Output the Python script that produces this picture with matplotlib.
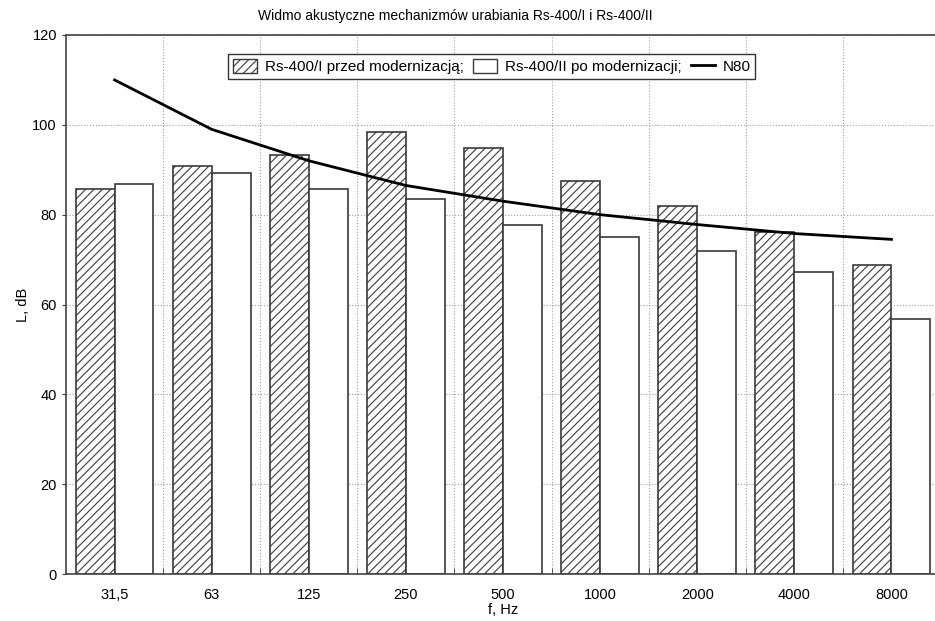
import numpy as np
import matplotlib.pyplot as plt
from matplotlib.patches import Patch
from matplotlib.lines import Line2D

plt.rcParams['font.family'] = ['Liberation Sans', 'DejaVu Sans']
plt.rcParams['hatch.linewidth'] = 0.8

# octave band centre frequencies
freqs = ['31,5', '63', '125', '250', '500', '1000', '2000', '4000', '8000']

# sound level before / after modernisation, dB
before = [85.7, 90.9, 93.2, 98.3, 94.9, 87.4, 82.0, 76.2, 68.7]
after = [86.8, 89.2, 85.7, 83.5, 77.6, 75.1, 71.9, 67.3, 56.7]

# N80 limit curve
n80 = [110.0, 99.0, 92.0, 86.5, 83.0, 80.0, 77.8, 75.8, 74.5]

fig = plt.figure(figsize=(9.35, 6.21), dpi=100)
ax = fig.add_axes([66 / 935, 47 / 621, 874 / 935, 539 / 621])

x = np.arange(len(freqs))
w = 0.4
edge = '#3a3a3a'

ax.bar(x - w / 2, before, w, facecolor='white', edgecolor=edge,
       hatch='////', linewidth=1.2, zorder=2)
ax.bar(x + w / 2, after, w, facecolor='white', edgecolor=edge,
       linewidth=1.2, zorder=2)
ax.plot(x, n80, color='black', linewidth=2, zorder=3)

ax.set_xlim(-0.5, len(freqs) - 0.5)
ax.set_ylim(0, 120)
ax.set_yticks(np.arange(0, 121, 20))
ax.set_xticks(x)
ax.set_xticklabels(freqs)
ax.set_xticks(np.arange(0.5, len(freqs) - 0.5, 1), minor=True)

ax.tick_params(axis='x', which='major', length=0, pad=10, labelsize=10.5)
ax.tick_params(axis='x', which='minor', direction='in', length=4, color=edge)
ax.tick_params(axis='y', direction='out', length=3, labelsize=10.5, color=edge)

ax.grid(True, which='minor', axis='x', linestyle=':', color='#a0a0a0', linewidth=0.8, zorder=0)
ax.grid(True, which='major', axis='y', linestyle=':', color='#a0a0a0', linewidth=0.8, zorder=0)
ax.set_axisbelow(True)

for s in ax.spines.values():
    s.set_color('#444444')
    s.set_linewidth(1.2)

ax.set_xlabel('f, Hz', fontsize=10.5, labelpad=1)
ax.set_ylabel('L, dB', fontsize=10.5, labelpad=2)
fig.suptitle('Widmo akustyczne mechanizmów urabiania Rs-400/I i Rs-400/II',
             fontsize=10, x=0.487, y=0.986)

handles = [
    Patch(facecolor='white', edgecolor=edge, hatch='////', linewidth=1),
    Patch(facecolor='white', edgecolor=edge, linewidth=1),
    Line2D([], [], color='black', linewidth=2),
]
labels = ['Rs-400/I przed modernizacją;', 'Rs-400/II po modernizacji;', 'N80']
leg = ax.legend(handles, labels, loc='upper center', bbox_to_anchor=(0.487, 0.978),
                ncol=3, fancybox=False, edgecolor='#333333', fontsize=11,
                handlelength=1.6, handleheight=1.0, handletextpad=0.5,
                columnspacing=0.6, borderpad=0.3, framealpha=1)
leg.get_frame().set_linewidth(1.0)

fig.savefig('out.png', dpi=100)
